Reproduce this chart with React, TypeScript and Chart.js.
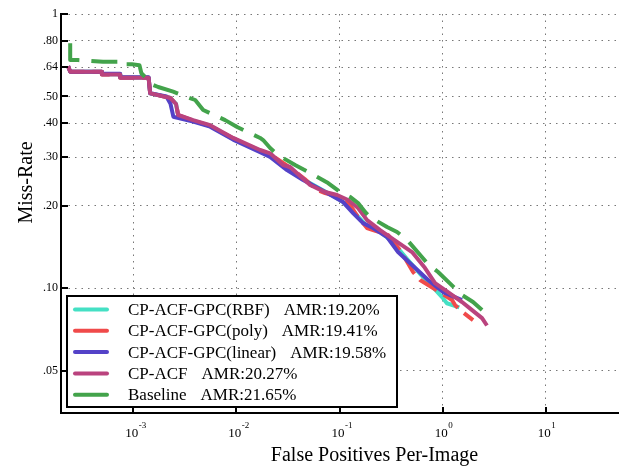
import React, { useEffect, useRef } from "react";
import { Chart, registerables } from "chart.js";

Chart.register(...registerables);

// ---- axis ticks ----
const X_TICKS = [1e-3, 1e-2, 1e-1, 1, 10];
const X_EXPONENTS = ["-3", "-2", "-1", "0", "1"];
const Y_TICKS = [0.05, 0.1, 0.2, 0.3, 0.4, 0.5, 0.64, 0.8, 1];
const Y_LABELS = [".05", ".10", ".20", ".30", ".40", ".50", ".64", ".80", "1"];

// ---- legend ----
const SERIES_NAMES = [
  "CP-ACF-GPC(RBF)",
  "CP-ACF-GPC(poly)",
  "CP-ACF-GPC(linear)",
  "CP-ACF",
  "Baseline",
];
const SERIES_AMR = ["AMR:19.20%", "AMR:19.41%", "AMR:19.58%", "AMR:20.27%", "AMR:21.65%"];
const SERIES_COLORS = ["#44E0C4", "#F04A4A", "#5442C8", "#BA437E", "#43A34B"];

// ---- series (FPPI vs miss rate) ----
const rbfFppi = [2.34e-4, 2.45e-4, 4.97e-4, 4.97e-4, 7.48e-4, 7.48e-4, 1.41e-3, 1.46e-3, 2.28e-3, 2.6e-3, 2.73e-3, 3.81e-3, 5.57e-3, 9.3e-3, 1.7e-2, 2.126e-2, 3.2e-2, 5.0e-2, 7.4e-2, 0.105, 0.14, 0.18, 0.25, 0.33, 0.45, 0.6, 0.8, 0.986, 1.1, 1.45];
const rbfMr = [0.645, 0.616, 0.616, 0.603, 0.603, 0.586, 0.586, 0.514, 0.495, 0.47, 0.426, 0.408, 0.391, 0.35, 0.316, 0.305, 0.273, 0.243, 0.224, 0.208, 0.188, 0.17, 0.16, 0.147, 0.128, 0.113, 0.101, 0.0927, 0.088, 0.085];

const polyFppi = [2.34e-4, 2.45e-4, 4.97e-4, 4.97e-4, 7.48e-4, 7.48e-4, 1.41e-3, 1.46e-3, 2.28e-3, 2.6e-3, 2.73e-3, 3.81e-3, 5.57e-3, 9.3e-3, 1.7e-2, 2.126e-2, 3.32e-2, 4.6e-2, 6.07e-2, 7.25e-2, 0.1, 0.1267, 0.1514, 0.185, 0.2117, 0.2958, 0.4, 0.517, 0.604, 0.807, 1.233, 1.318, 1.474, 1.971];
const polyMr = [0.645, 0.616, 0.616, 0.602, 0.602, 0.585, 0.585, 0.514, 0.494, 0.47, 0.428, 0.408, 0.39, 0.352, 0.317, 0.308, 0.275, 0.25, 0.2278, 0.2222, 0.215, 0.2009, 0.1816, 0.1656, 0.1628, 0.1561, 0.135, 0.1144, 0.107, 0.1, 0.0904, 0.0867, 0.0831, 0.0764];

const linearFppi = [2.34e-4, 2.45e-4, 4.97e-4, 4.97e-4, 7.48e-4, 7.48e-4, 1.41e-3, 1.46e-3, 2.1e-3, 2.3e-3, 2.45e-3, 3.81e-3, 5.57e-3, 9.3e-3, 1.7e-2, 2.126e-2, 3.1e-2, 4.44e-2, 7.59e-2, 0.1084, 0.1355, 0.1693, 0.2117, 0.2892, 0.3696, 0.505, 0.722, 1.009, 1.541];
const linearMr = [0.645, 0.616, 0.616, 0.605, 0.605, 0.588, 0.588, 0.514, 0.5, 0.47, 0.422, 0.405, 0.388, 0.348, 0.313, 0.3007, 0.2695, 0.2478, 0.2222, 0.206, 0.1878, 0.1726, 0.1656, 0.1535, 0.1353, 0.1213, 0.107, 0.0967, 0.0904];

const cpacfFppi = [2.34e-4, 2.45e-4, 4.97e-4, 4.97e-4, 7.48e-4, 7.48e-4, 1.41e-3, 1.46e-3, 2.28e-3, 2.6e-3, 2.73e-3, 3.81e-3, 5.57e-3, 9.3e-3, 1.7e-2, 2.126e-2, 2.84e-2, 3.32e-2, 5.19e-2, 7.25e-2, 9.48e-2, 0.1211, 0.1514, 0.185, 0.2474, 0.32, 0.505, 0.675, 0.844, 1.128, 1.541, 1.928, 2.41, 2.69];
const cpacfMr = [0.645, 0.616, 0.616, 0.602, 0.602, 0.585, 0.585, 0.514, 0.494, 0.47, 0.428, 0.41, 0.393, 0.353, 0.319, 0.3103, 0.281, 0.2764, 0.2376, 0.224, 0.2185, 0.2095, 0.196, 0.177, 0.1628, 0.1522, 0.1353, 0.1183, 0.1043, 0.0967, 0.0889, 0.0831, 0.0777, 0.073];

const baselineFppi = [2.45e-4, 2.45e-4, 2.93e-4, 5.09e-4, 7.48e-4, 7.48e-4, 9.71e-4, 1.15e-3, 1.2e-3, 1.397e-3, 1.563e-3, 1.747e-3, 2.44e-3, 3.99e-3, 4.77e-3, 7.79e-3, 1.018e-2, 1.7e-2, 1.818e-2, 2.126e-2, 2.54e-2, 3.71e-2, 5.19e-2, 7.75e-2, 0.1014, 0.1267, 0.1514, 0.177, 0.198, 0.2892, 0.3614, 0.452, 0.706, 0.903, 1.541, 1.971, 2.41];
const baselineMr = [0.782, 0.679, 0.679, 0.67, 0.67, 0.655, 0.655, 0.65, 0.608, 0.574, 0.551, 0.5415, 0.5205, 0.4855, 0.4465, 0.41, 0.387, 0.353, 0.3468, 0.3243, 0.3057, 0.281, 0.2628, 0.2416, 0.224, 0.215, 0.2042, 0.1894, 0.1816, 0.167, 0.1601, 0.15, 0.1234, 0.1144, 0.0943, 0.0889, 0.0831];

const SERIES_FPPI = [rbfFppi, polyFppi, linearFppi, cpacfFppi, baselineFppi];
const SERIES_MR = [rbfMr, polyMr, linearMr, cpacfMr, baselineMr];
const SERIES_DASH: number[][] = [[], [20, 8], [], [], [26, 12]];
const SERIES_ORDER = [5, 4, 3, 2, 1];

const X_TITLE = "False Positives Per-Image";
const Y_TITLE = "Miss-Rate";
const SERIF = '"Liberation Serif", "Times New Roman", serif';

const decorPlugin = {
  id: "decor",
  afterDraw(chart: any) {
    const { ctx, chartArea: a, scales } = chart;
    const x = scales.x;
    const y = scales.y;
    ctx.save();

    // legend box
    const lx = a.left + 6;
    const ly = a.bottom - 117;
    const lw = 330;
    const lh = 111;
    ctx.fillStyle = "#fff";
    ctx.fillRect(lx, ly, lw, lh);
    ctx.strokeStyle = "#000";
    ctx.lineWidth = 2;
    ctx.setLineDash([]);
    ctx.strokeRect(lx, ly, lw, lh);
    ctx.font = "17px " + SERIF;
    ctx.textBaseline = "middle";
    ctx.textAlign = "left";
    SERIES_NAMES.forEach((name, i) => {
      const cy = ly + 13.5 + i * 21.3;
      ctx.strokeStyle = SERIES_COLORS[i];
      ctx.lineWidth = 4;
      ctx.lineCap = "round";
      ctx.beginPath();
      ctx.moveTo(lx + 8, cy);
      ctx.lineTo(lx + 40, cy);
      ctx.stroke();
      ctx.fillStyle = "#000";
      ctx.fillText(name, lx + 61, cy + 1);
      const w = ctx.measureText(name).width;
      ctx.fillText(SERIES_AMR[i], lx + 61 + w + 14, cy + 1);
    });

    // inward ticks
    ctx.strokeStyle = "#000";
    ctx.lineWidth = 2;
    ctx.lineCap = "butt";
    X_TICKS.forEach((v) => {
      const px = Math.round(x.getPixelForValue(v));
      ctx.beginPath();
      ctx.moveTo(px, a.bottom);
      ctx.lineTo(px, a.bottom - 6);
      ctx.stroke();
    });
    Y_TICKS.forEach((v) => {
      const py = Math.round(y.getPixelForValue(v));
      ctx.beginPath();
      ctx.moveTo(a.left, py);
      ctx.lineTo(a.left + 7, py);
      ctx.stroke();
    });

    // x tick labels with superscript exponents
    ctx.fillStyle = "#000";
    ctx.textBaseline = "alphabetic";
    ctx.textAlign = "left";
    X_TICKS.forEach((v, i) => {
      const px = x.getPixelForValue(v);
      ctx.font = "13px " + SERIF;
      const w1 = ctx.measureText("10").width;
      ctx.fillText("10", px - 8, a.bottom + 24);
      ctx.font = "9px " + SERIF;
      ctx.fillText(X_EXPONENTS[i], px - 8 + w1 + 0.5, a.bottom + 15);
    });

    // axis titles
    ctx.font = "20px " + SERIF;
    ctx.textAlign = "center";
    ctx.fillText(X_TITLE, (a.left + a.right) / 2 + 35, a.bottom + 48);
    ctx.translate(a.left - 29, (a.top + a.bottom) / 2 - 31);
    ctx.rotate(-Math.PI / 2);
    ctx.fillText(Y_TITLE, 0, 0);
    ctx.restore();
  },
};

export default function App() {
  const canvasRef = useRef<HTMLCanvasElement | null>(null);

  useEffect(() => {
    if (!canvasRef.current) return;
    const datasets = SERIES_NAMES.map((name, i) => ({
      label: name,
      data: SERIES_FPPI[i].map((fx, j) => ({ x: fx, y: SERIES_MR[i][j] })),
      borderColor: SERIES_COLORS[i],
      backgroundColor: SERIES_COLORS[i],
      borderWidth: 4,
      borderDash: SERIES_DASH[i],
      borderJoinStyle: "round" as const,
      pointRadius: 0,
      tension: 0,
      fill: false,
      order: SERIES_ORDER[i],
    }));

    const chart = new Chart(canvasRef.current, {
      type: "line",
      data: { datasets },
      options: {
        animation: false,
        responsive: true,
        maintainAspectRatio: false,
        devicePixelRatio: 1,
        layout: { padding: { top: 14, right: 10, left: 0, bottom: 0 } },
        plugins: {
          legend: { display: false },
          tooltip: { enabled: false },
          title: { display: false },
        },
        scales: {
          x: {
            type: "logarithmic",
            min: Math.pow(10, -3.7),
            max: Math.pow(10, 1.7),
            afterBuildTicks: (scale: any) => {
              scale.ticks = X_TICKS.map((v) => ({ value: v }));
            },
            afterFit: (scale: any) => {
              scale.height = 53;
            },
            ticks: { display: false, autoSkip: false },
            grid: { color: "#777", lineWidth: 1, drawTicks: false },
            border: { display: true, color: "#000", width: 2, dash: [1.5, 5] },
          },
          y: {
            type: "logarithmic",
            min: 0.035,
            max: 1,
            afterBuildTicks: (scale: any) => {
              scale.ticks = Y_TICKS.map((v) => ({ value: v }));
            },
            afterFit: (scale: any) => {
              scale.width = 61;
            },
            ticks: {
              autoSkip: false,
              padding: 3,
              color: "#000",
              font: { family: SERIF, size: 12 },
              callback: (value: any) => {
                const idx = Y_TICKS.findIndex((t) => Math.abs(t - Number(value)) < 1e-9);
                return idx >= 0 ? Y_LABELS[idx] : "";
              },
            },
            grid: { color: "#777", lineWidth: 1, drawTicks: false },
            border: { display: true, color: "#000", width: 2, dash: [1.5, 5] },
          },
        },
      },
      plugins: [decorPlugin],
    });
    return () => chart.destroy();
  }, []);

  return (
    <div style={{ position: "fixed", left: 0, top: 0, width: 628, height: 466, background: "#fff" }}>
      <canvas ref={canvasRef} />
    </div>
  );
}
